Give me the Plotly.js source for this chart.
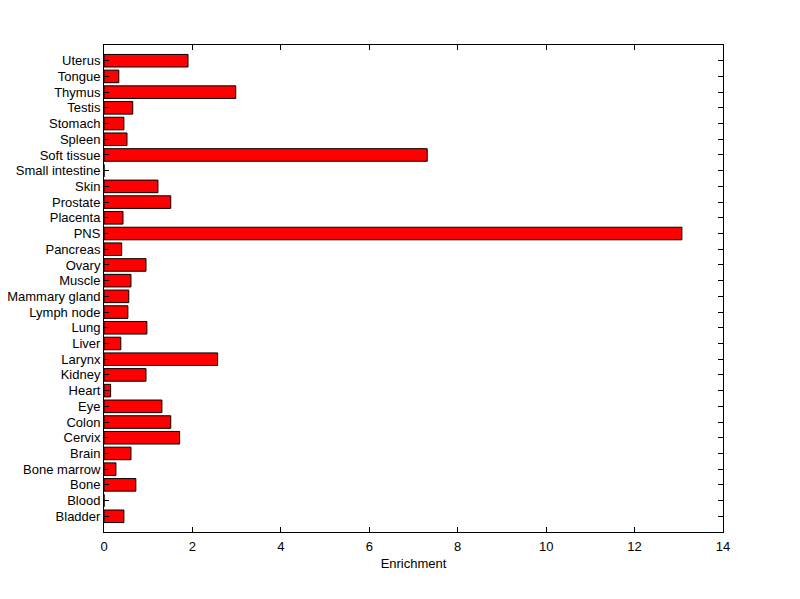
<!DOCTYPE html>
<html>
<head>
<meta charset="utf-8">
<script src="https://cdn.plot.ly/plotly-3.0.1.min.js"></script>
<style>html,body{margin:0;padding:0;background:#fff;}</style>
</head>
<body>
<div id="chart" style="width:800px;height:599px;"></div>
<script>
var tissues = ["Bladder","Blood","Bone","Bone marrow","Brain","Cervix","Colon","Eye","Heart","Kidney","Larynx","Liver","Lung","Lymph node","Mammary gland","Muscle","Ovary","Pancreas","PNS","Placenta","Prostate","Skin","Small intestine","Soft tissue","Spleen","Stomach","Testis","Thymus","Tongue","Uterus"];
var enrichment = [0.45,0,0.72,0.27,0.61,1.71,1.51,1.31,0.15,0.95,2.57,0.38,0.97,0.54,0.56,0.61,0.95,0.40,13.07,0.43,1.51,1.22,0,7.31,0.52,0.45,0.65,2.98,0.335,1.90];
var xTicks = [0,2,4,6,8,10,12,14];

var trace = {
  type: 'bar',
  orientation: 'h',
  x: enrichment,
  y: tissues,
  marker: {color: '#ff0000', line: {color: '#000000', width: 1}},
  hoverinfo: 'x+y'
};

var font = {family: 'Liberation Sans, Arial, sans-serif', size: 13, color: '#000'};

var layout = {
  width: 800,
  height: 599,
  paper_bgcolor: '#ffffff',
  plot_bgcolor: '#ffffff',
  margin: {l: 104, r: 77, t: 45, b: 67},
  showlegend: false,
  bargap: 0.2,
  font: font,
  xaxis: {
    range: [0, 14],
    tickmode: 'array',
    tickvals: xTicks,
    ticktext: xTicks.map(String),
    ticks: 'inside',
    ticklen: 5,
    tickcolor: '#000',
    showline: true,
    linecolor: '#000',
    linewidth: 1,
    mirror: 'ticks',
    showgrid: false,
    zeroline: false,
    tickfont: font,
    ticklabelstandoff: 2,
    title: {text: 'Enrichment', font: font, standoff: 6}
  },
  yaxis: {
    type: 'category',
    categoryorder: 'array',
    categoryarray: tissues,
    range: [-1, 30],
    tickmode: 'array',
    tickvals: tissues,
    ticktext: tissues,
    ticks: 'inside',
    ticklen: 5,
    tickcolor: '#000',
    showline: true,
    linecolor: '#000',
    linewidth: 1,
    mirror: 'ticks',
    showgrid: false,
    zeroline: false,
    tickfont: font
  }
};

Plotly.newPlot('chart', [trace], layout, {displayModeBar: false, staticPlot: true});
</script>
</body>
</html>
